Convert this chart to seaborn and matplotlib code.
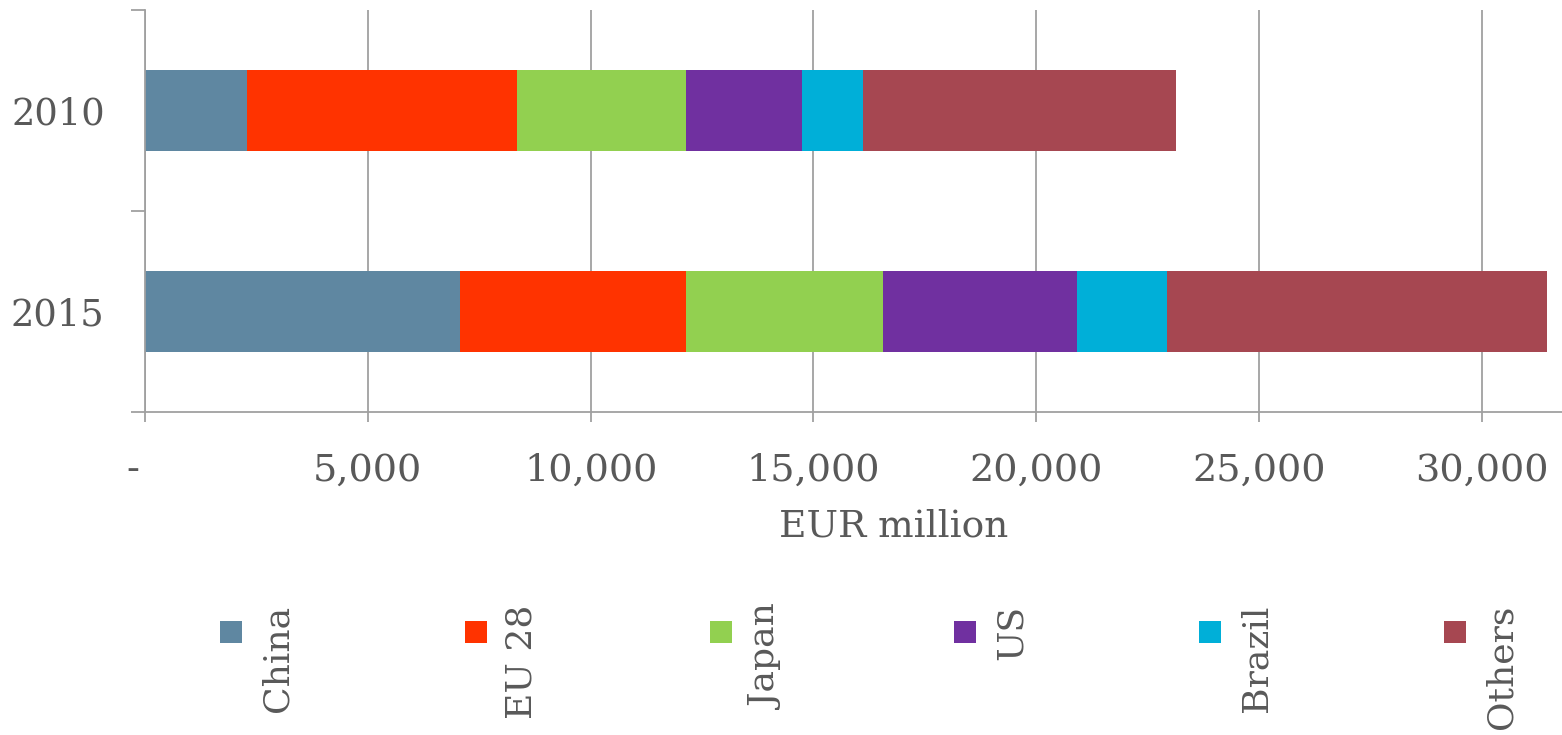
import pandas as pd
import seaborn as sns
import matplotlib.pyplot as plt
import matplotlib.transforms as mtransforms
from matplotlib.patches import Rectangle

sns.set_style("white")
plt.rcParams['font.family'] = ['DejaVu Serif']

years = ["2010", "2015"]
regions = ["China", "EU 28", "Japan", "US", "Brazil", "Others"]
china = [2290, 7070]
eu28 = [6060, 5070]
japan = [3790, 4430]
us = [2610, 4350]
brazil = [1370, 2020]
others = [7020, 8530]
colors = ["#5f87a1", "#ff3300", "#92d050", "#7030a0", "#00afd8", "#a64751"]
xticks = [0, 5000, 10000, 15000, 20000, 25000, 30000]

text_color = "#595959"
line_color = "#a0a0a0"

data = pd.DataFrame({"year": years, "China": china, "EU 28": eu28,
                     "Japan": japan, "US": us, "Brazil": brazil,
                     "Others": others})
cum = data[regions].cumsum(axis=1)
cum["year"] = data["year"]

fig = plt.figure(figsize=(15.62, 7.35), dpi=100)
ax = fig.add_axes([145 / 1562, 1 - 412 / 735, 1 - 145 / 1562, 402 / 735])

# draw the running totals back to front so each segment shows
for name, col in reversed(list(zip(regions, colors))):
    sns.barplot(x=name, y="year", data=cum, orient="h", color=col,
                saturation=1, width=0.4, linewidth=0, ax=ax)

ax.set_xlim(0, 31800)
ax.set_ylim(1.5, -0.5)
ax.set_xticks(xticks)
ax.set_xticklabels(["-" if v == 0 else f"{v:,}" for v in xticks])
ax.set_yticks([0, 1])
ax.set_yticklabels(years)
ax.set_yticks([-0.5, 0.5, 1.5], minor=True)

ax.xaxis.grid(True, color=line_color, linewidth=1.3)
ax.set_axisbelow(True)
for side in ["top", "right"]:
    ax.spines[side].set_visible(False)
for side in ["left", "bottom"]:
    ax.spines[side].set_color(line_color)
    ax.spines[side].set_linewidth(1.3)

ax.tick_params(axis="x", which="major", direction="out", length=7,
               width=1.3, color=line_color, labelsize=27.5,
               labelcolor=text_color, pad=22, bottom=True)
ax.tick_params(axis="y", which="major", length=0, labelsize=26.5,
               labelcolor=text_color, pad=29)
ax.tick_params(axis="y", which="minor", direction="out", length=10,
               width=1.3, color=line_color, left=True)

# the zero label "-" sits a little left of its tick in the original
dash = ax.get_xticklabels()[0]
dash.set_transform(dash.get_transform() + mtransforms.ScaledTranslation(
    -12 / 100, 0, fig.dpi_scale_trans))

ax.set_ylabel("")
ax.set_xlabel("EUR million", fontsize=27, color=text_color)
ax.xaxis.set_label_coords(0.528, -0.285)
ax.xaxis.label.set_va("center")

# legend laid out like the original: square then vertical label
for i, (name, col) in enumerate(zip(regions, colors)):
    left = 220 + i * 244.8
    fig.add_artist(Rectangle((left / 1562, 1 - 643 / 735), 22 / 1562,
                             22 / 735, transform=fig.transFigure,
                             color=col, linewidth=0))
    fig.text((left + 57) / 1562, 1 - 605 / 735, name, rotation=90,
             ha="center", va="top", fontsize=26, color=text_color)

fig.savefig("out.png", dpi=100)
